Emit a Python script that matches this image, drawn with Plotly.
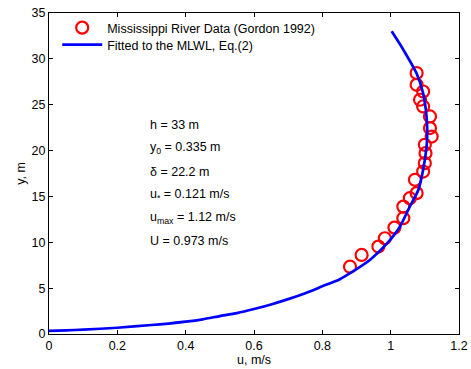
import plotly.graph_objects as go

# Measured data (Mississippi River, Gordon 1992)
data_u = [1.076, 1.076, 1.095, 1.086, 1.095, 1.115, 1.115, 1.120, 1.100, 1.102, 1.100,
          1.095, 1.071, 1.076, 1.056, 1.037, 1.037, 1.011, 0.983, 0.964, 0.915, 0.881]
data_y = [28.45, 27.17, 26.44, 25.54, 24.81, 23.72, 22.45, 21.53, 20.63, 19.72, 18.63,
          17.71, 16.81, 15.36, 14.81, 13.89, 12.63, 11.60, 10.44, 9.53, 8.62, 7.34]

# Fitted MLWL curve
fit_u = [0.000, 0.05, 0.10, 0.20, 0.30, 0.35, 0.40, 0.45, 0.50, 0.55, 0.60, 0.65, 0.70, 0.75,
         0.80, 0.85, 0.88, 0.94, 0.99, 1.027, 1.056, 1.081, 1.095, 1.105, 1.107, 1.105,
         1.095, 1.076, 1.037, 1.003]
fit_y = [0.335, 0.40, 0.47, 0.68, 0.98, 1.14, 1.34, 1.60, 1.95, 2.28, 2.72, 3.22, 3.80, 4.45,
         5.20, 5.95, 6.60, 8.10, 9.90, 11.70, 13.90, 15.70, 17.90, 20.40, 22.00, 23.70,
         26.25, 28.40, 31.00, 33.00]

ann_y = [22.8, 20.25, 17.7, 15.2, 12.65, 10.1]
ann_text = ["h = 33 m", "y<sub>0</sub> = 0.335 m", "δ = 22.2 m",
            "u<sub>*</sub> = 0.121 m/s", "u<sub>max</sub> = 1.12 m/s", "U = 0.973 m/s"]

x_ticks = [0, 0.2, 0.4, 0.6, 0.8, 1, 1.2]
x_tick_labels = ["0", "0.2", "0.4", "0.6", "0.8", "1", "1.2"]
y_ticks = [0, 5, 10, 15, 20, 25, 30, 35]

FONT = "Liberation Sans, Arial, sans-serif"
FS = 12.5

fig = go.Figure()
fig.add_trace(go.Scatter(
    x=data_u, y=data_y, mode="markers", name="Mississippi River Data (Gordon 1992)",
    legend="legend",
    marker=dict(symbol="circle-open", size=12, color="#ff0000", line=dict(width=2.2, color="#ff0000")),
))
fig.add_trace(go.Scatter(
    x=fit_u, y=fit_y, mode="lines", name="Fitted to the MLWL, Eq.(2)",
    legend="legend2",
    line=dict(color="#0000ff", width=2.7, shape="spline", smoothing=0.6),
))

for t, yy in zip(ann_text, ann_y):
    fig.add_annotation(x=0.29, y=yy, text=t, showarrow=False, xanchor="left", yanchor="middle",
                       font=dict(size=FS, color="black", family=FONT))

# axis titles
fig.add_annotation(x=0.5, y=-0.052, xref="paper", yref="paper", text="u, m/s", showarrow=False,
                   xanchor="center", yanchor="top", font=dict(size=FS, color="black", family=FONT))
fig.add_annotation(x=-0.048, y=0.5, xref="paper", yref="paper", text="y, m", showarrow=False,
                   textangle=-90, xanchor="right", yanchor="middle",
                   font=dict(size=FS, color="black", family=FONT))

axis_common = dict(showgrid=False, zeroline=False, showline=True, linecolor="black", linewidth=1,
                   mirror="ticks", ticks="inside", ticklen=4, tickcolor="black", automargin=False,
                   tickfont=dict(size=FS, color="black", family=FONT))

leg_common = dict(xanchor="left", yanchor="middle", bgcolor="rgba(0,0,0,0)", borderwidth=0,
                  font=dict(size=FS, family=FONT, color="black"), itemwidth=40)

fig.update_layout(
    width=471, height=369,
    margin=dict(l=49, r=12, t=13, b=35),
    plot_bgcolor="white", paper_bgcolor="white",
    font=dict(family=FONT, size=FS, color="black"),
    xaxis=dict(range=[0, 1.2], tickvals=x_ticks, ticktext=x_tick_labels, **axis_common),
    yaxis=dict(range=[0, 35], tickvals=y_ticks, **axis_common),
    legend=dict(x=0.02, y=(334 - 28) / 321, **leg_common),
    legend2=dict(x=0.02, y=(334 - 45) / 321, **leg_common),
    showlegend=True,
)

fig.write_html("out.html", config={"displayModeBar": False},
               post_script="document.body.style.margin='0';document.body.style.overflow='hidden';")
